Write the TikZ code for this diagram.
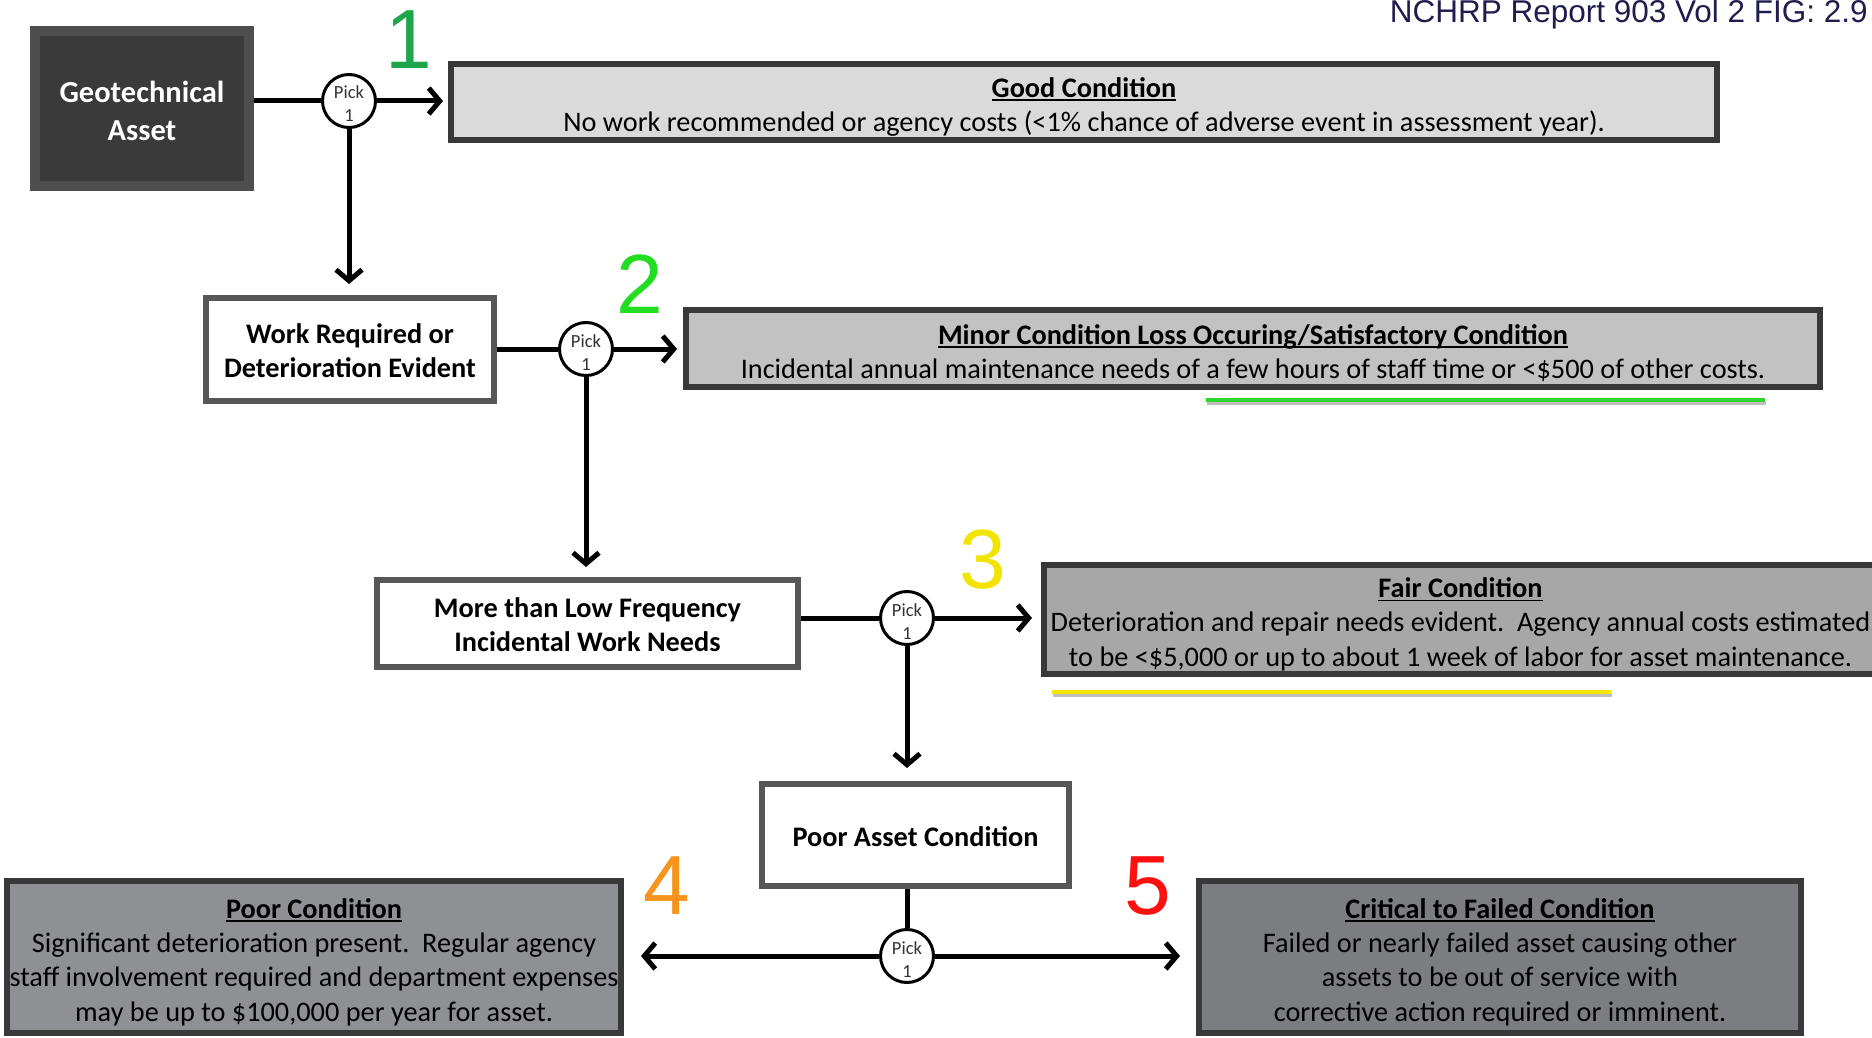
\documentclass[tikz,border=0pt]{standalone}
\usepackage{fontspec}
\setmainfont{Carlito}
\newfontfamily\arialf{Liberation Sans}
\usetikzlibrary{arrows.meta}
\definecolor{geofill}{HTML}{3A3A3A}
\definecolor{geoborder}{HTML}{4E4E4E}
\definecolor{wborder}{HTML}{575757}
\definecolor{cborder}{HTML}{383838}
\definecolor{goodfill}{HTML}{DADADA}
\definecolor{minorfill}{HTML}{C2C2C2}
\definecolor{fairfill}{HTML}{A7A7A7}
\definecolor{poorfill}{HTML}{8E9094}
\definecolor{critfill}{HTML}{7B7D80}
\definecolor{numone}{HTML}{1FA64A}
\definecolor{numtwo}{HTML}{22DD22}
\definecolor{numthree}{HTML}{F2E400}
\definecolor{numfour}{HTML}{F7941D}
\definecolor{numfive}{HTML}{FF1010}
\definecolor{titlecol}{HTML}{1F1D4D}
\definecolor{ulgreen}{HTML}{2FD42F}
\definecolor{ulyellow}{HTML}{F5E400}
\newcommand\ulbox[1]{\setbox0\hbox{#1}\rlap{\rule[-3.8pt]{\wd0}{1.9pt}}\box0}
\newcommand\toppad[1]{\rule{0pt}{#1}}
\tikzset{
  boxbase/.style={rectangle, draw, inner sep=0pt, outer sep=0pt, align=center},
  geobox/.style={boxbase, line width=10pt, draw=geoborder, fill=geofill, text=white, font=\fontsize{30.5}{38}\selectfont\bfseries},
  wbox/.style={boxbase, line width=6pt, draw=wborder, fill=white, font=\fontsize{28.3}{34}\selectfont\bfseries},
  cbox/.style={boxbase, line width=6pt, draw=cborder, font=\fontsize{28.3}{34.3}\selectfont},
  pick/.style={circle, draw, line width=3pt, fill=white, minimum size=53pt, inner sep=0pt, align=center, text=black!80, font=\fontsize{18.5}{23}\selectfont},
  conn/.style={line width=5pt},
  arr/.style={conn, -{Straight Barb[length=11pt,width=26pt]}},
  num/.style={inner sep=0pt, font=\arialf\fontsize{84}{84}\selectfont},
  ulbar/.style={line width=4pt}
}
\begin{document}
\begin{tikzpicture}[x=1pt,y=-1pt]
\useasboundingbox (0,0) rectangle (1872,1038);
\fill[white] (0,0) rectangle (1872,1038);

% title
\node[anchor=base east, inner sep=0pt, text=titlecol, font=\arialf\fontsize{31.5}{33}\selectfont] (title) at (1868,23) {NCHRP Report 903 Vol 2 FIG: 2.9};

% boxes
\node[geobox, minimum width=214pt, minimum height=155pt] (geo) at (142,108.5) {\toppad{26pt}Geotechnical\\Asset};
\node[cbox, fill=goodfill, minimum width=1266pt, minimum height=76pt] (good) at (1084,102)
  {\toppad{29.5pt}\textbf{\ulbox{Good Condition}}\\No work recommended or agency costs (<1\% chance of adverse event in assessment year).};
\node[wbox, minimum width=288pt, minimum height=103pt] (work) at (350,349.5) {\toppad{22pt}Work Required or\\Deterioration Evident};
\node[cbox, fill=minorfill, minimum width=1134pt, minimum height=77pt] (minor) at (1253,348.5)
  {\toppad{29.5pt}\textbf{\ulbox{Minor Condition Loss Occuring/Satisfactory Condition}}\\Incidental annual maintenance needs of a few hours of staff time or <\$500 of other costs.};
\node[wbox, minimum width=421pt, minimum height=87pt] (more) at (587.5,623.5) {\toppad{22pt}More than Low Frequency\\Incidental Work Needs};
\node[cbox, fill=fairfill, minimum width=833pt, minimum height=109pt] (fair) at (1460.5,619.5)
  {\toppad{29.5pt}\textbf{\ulbox{Fair Condition}}\\Deterioration and repair needs evident.\ \ Agency annual costs estimated\\to be <\$5,000 or up to about 1 week of labor for asset maintenance.};
\node[wbox, minimum width=307pt, minimum height=102pt] (pa) at (915.5,835) {\toppad{23pt}Poor Asset Condition};
\node[cbox, fill=poorfill, minimum width=614pt, minimum height=152pt] (poor) at (314,957)
  {\toppad{30pt}\textbf{\ulbox{Poor Condition}}\\Significant deterioration present.\ \ Regular agency\\staff involvement required and department expenses\\may be up to \$100,000 per year for asset.};
\node[cbox, fill=critfill, minimum width=602pt, minimum height=152pt] (crit) at (1500,957)
  {\toppad{30pt}\textbf{\ulbox{Critical to Failed Condition}}\\Failed or nearly failed asset causing other\\assets to be out of service with\\corrective action required or imminent.};

% pick circles
\node[pick] (c1) at (349,101) {\toppad{19pt}Pick\\1};
\node[pick] (c2) at (586,349) {\toppad{19pt}Pick\\1};
\node[pick] (c3) at (907,618) {\toppad{19pt}Pick\\1};
\node[pick] (c4) at (907,956) {\toppad{19pt}Pick\\1};

% connectors
\draw[conn, shorten <=5pt] (c1 -| geo.east) -- (c1.west);
\draw[arr, shorten >=8pt] (c1.east) -- (c1 -| good.west);
\draw[arr, shorten >=14pt] (c1.south) -- (c1 |- work.north);
\draw[conn, shorten <=3pt] (c2 -| work.east) -- (c2.west);
\draw[arr, shorten >=9pt] (c2.east) -- (c2 -| minor.west);
\draw[arr, shorten >=13pt] (c2.south) -- (c2 |- more.north);
\draw[conn, shorten <=3pt] (c3 -| more.east) -- (c3.west);
\draw[arr, shorten >=12pt] (c3.east) -- (c3 -| fair.west);
\draw[arr, shorten >=16pt] (c3.south) -- (c3 |- pa.north);
\draw[conn, shorten <=3pt] (c4 |- pa.south) -- (c4.north);
\draw[arr, shorten >=20pt] (c4.west) -- (c4 -| poor.east);
\draw[arr, shorten >=19pt] (c4.east) -- (c4 -| crit.west);

% numbers
\node[num, text=numone] (n1) at (409,40) {1};
\node[num, text=numtwo] (n2) at (640,284) {2};
\node[num, text=numthree] (n3) at (983,560) {3};
\node[num, text=numfour] (n4) at (667,886) {4};
\node[num, text=numfive] (n5) at (1148,886) {5};

% highlight bars
\draw[ulbar, black!25] (1207,403) -- (1766,403);
\draw[ulbar, ulgreen] (1206,400) -- (1765,400);
\draw[ulbar, black!25] (1053,695) -- (1612,695);
\draw[ulbar, ulyellow] (1052,692) -- (1611,692);
\end{tikzpicture}
\end{document}
